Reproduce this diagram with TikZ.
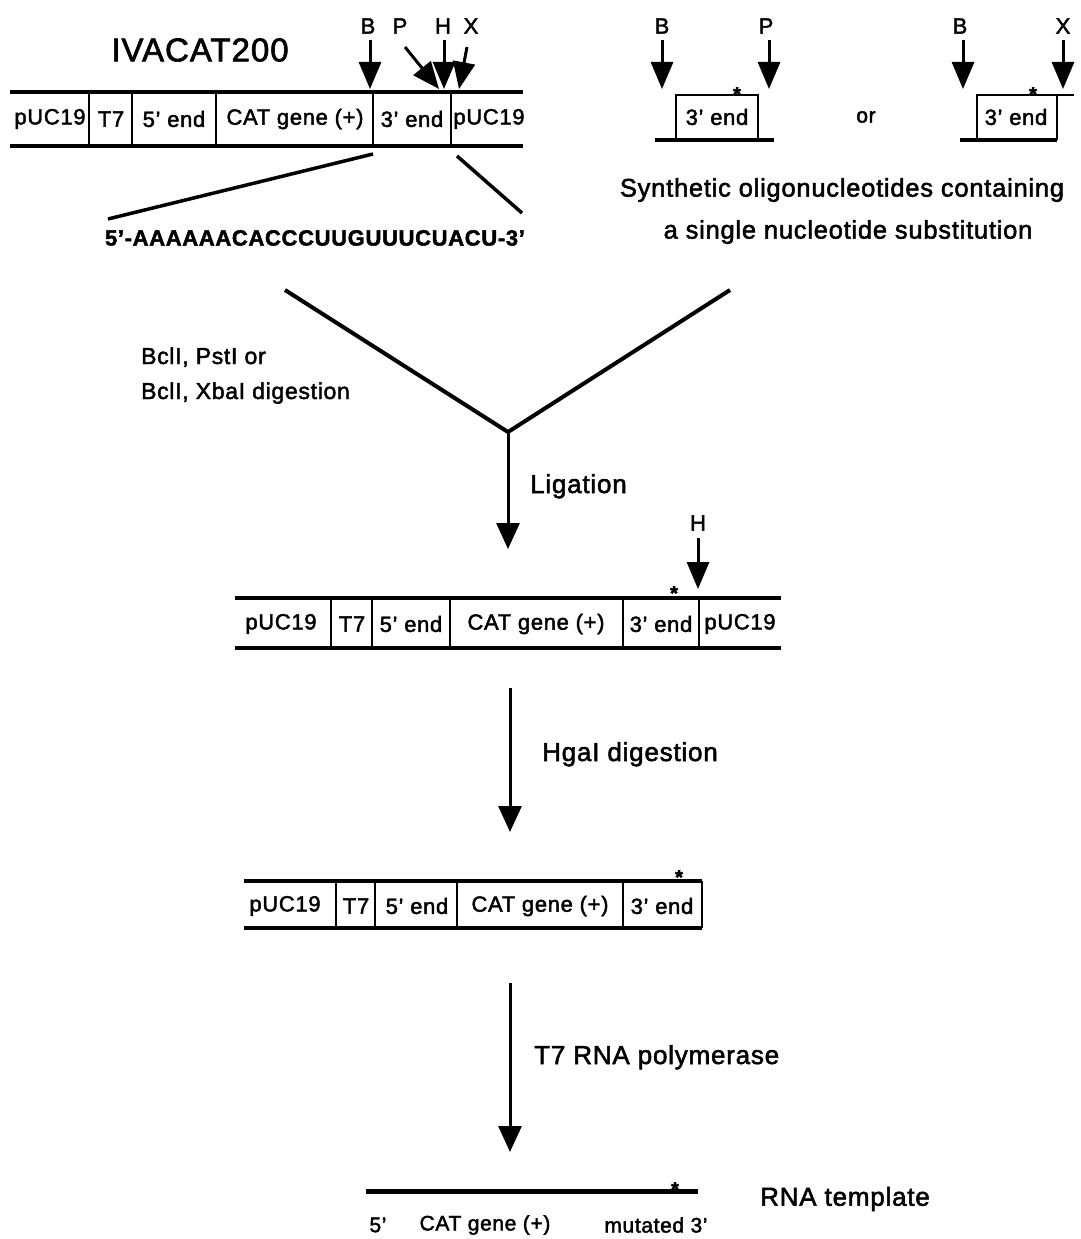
\documentclass[tikz,border=0pt]{standalone}
\usepackage{fontspec}
\setmainfont{Liberation Sans}[LetterSpace=3,FakeBold=2]
\usetikzlibrary{arrows.meta}
\begin{document}
\begin{tikzpicture}[x=1pt,y=-1pt,
  seg/.style={font=\fontsize{22}{26}\selectfont, inner sep=0pt},
  dna/.style={line width=3.2pt},
  dv/.style={line width=2.8pt},
  lbl/.style={font=\fontsize{22}{26}\selectfont, inner sep=0pt},
  cutarrow/.style={line width=3pt, -{Triangle[length=27pt,width=22pt]}},
  flow/.style={line width=3pt, -{Triangle[length=26pt,width=23pt]}},
  txt/.style={font=\fontsize{26}{30}\selectfont, inner sep=0pt},
  startxt/.style={font=\fontsize{20}{20}\selectfont\bfseries, inner sep=0pt, anchor=base},
]
\useasboundingbox[fill=white] (0,0) rectangle (1081,1239);

% ---------- top construct IVACAT200 ----------
\node[font=\fontsize{33}{38}\selectfont, inner sep=0pt] (title) at (200,50) {IVACAT200};
\draw[dna] (10,92) -- (523,92);
\draw[dna] (10,146) -- (523,146);
\foreach \x in {89,132,216,373,451} \draw[dv] (\x,92) -- (\x,146);
\node[seg] (a1) at (50,119) {pUC19};
\node[seg] (a2) at (111,119) {T7};
\node[seg] (a3) at (174,119) {5' end};
\node[seg] (a4) at (295,119) {CAT gene (+)};
\node[seg] (a5) at (412,119) {3' end};
\node[seg] (a6) at (489,119) {pUC19};
\node[lbl] (lB) at (368,26) {B};
\node[lbl] (lP) at (400,26) {P};
\node[lbl] (lH) at (443,26) {H};
\node[lbl] (lX) at (471,26) {X};
\coordinate (tB) at (370,89);
\coordinate (tP) at (439,89);
\coordinate (tH) at (444,89);
\coordinate (tX) at (459,89);
\draw[cutarrow] (370,40) -- (tB);
\draw[cutarrow] (405,47) -- (tP);
\draw[cutarrow] (444,40) -- (tH);
\draw[cutarrow] (467,47) -- (tX);

% expansion lines and sequence
\node[font=\fontsize{22}{26}\selectfont\bfseries, inner sep=0pt] (seq) at (315,238) {5'-AAAAAACACCCUUGUUUCUACU-3'};
\coordinate (eL1) at (373,154);
\coordinate (eL2) at (108,219);
\coordinate (eR1) at (457,156);
\coordinate (eR2) at (522,213);
\draw[line width=3.5pt] (eL1) -- (eL2);
\draw[line width=3.5pt] (eR1) -- (eR2);

% ---------- oligonucleotides ----------
\draw[dna] (655,140) -- (774,140);
\draw[dv] (676,140) -- (676,95) -- (758,95) -- (758,140);
\node[seg] (o1) at (717,117) {3' end};
\node[startxt] (s1) at (737,101) {*};
\node[lbl] (o1B) at (662,26) {B};
\node[lbl] (o1P) at (766,26) {P};
\coordinate (o1tB) at (662,89);
\coordinate (o1tP) at (769,89);
\draw[cutarrow] (662,40) -- (o1tB);
\draw[cutarrow] (769,40) -- (o1tP);

\node[font=\fontsize{21}{24}\selectfont, inner sep=0pt] (or) at (866,117) {or};

\draw[dna] (960,140) -- (1057,140);
\draw[dv] (977,140) -- (977,95) -- (1074,95);
\draw[dv] (1057,95) -- (1057,140);
\node[seg] (o2) at (1016,117) {3' end};
\node[startxt] (s2) at (1033,101) {*};
\node[lbl] (o2B) at (960,26) {B};
\node[lbl] (o2X) at (1063,26) {X};
\coordinate (o2tB) at (963,89);
\coordinate (o2tX) at (1063,89);
\draw[cutarrow] (963,40) -- (o2tB);
\draw[cutarrow] (1063,40) -- (o2tX);

\node[font=\fontsize{25.5}{30}\selectfont, inner sep=0pt] (syn1) at (842,190) {Synthetic oligonucleotides containing};
\node[font=\fontsize{25.5}{30}\selectfont, inner sep=0pt] (syn2) at (848,232) {a single nucleotide substitution};

% ---------- merging ----------
\coordinate (vL) at (285,290);
\coordinate (vR) at (730,290);
\coordinate (vJ) at (508,432);
\coordinate (lig) at (508,549);
\draw[line width=4pt, line join=miter] (vL) -- (vJ) -- (vR);
\draw[flow] (vJ) -- (lig);
\node[font=\fontsize{23}{27}\selectfont, inner sep=0pt, anchor=base west] (dig1) at (141,364) {BclI, PstI or};
\node[font=\fontsize{23}{27}\selectfont, inner sep=0pt, anchor=base west] (dig2) at (141,399) {BclI, XbaI digestion};
\node[txt, anchor=base west] (ligtxt) at (530,493) {Ligation};

% ---------- ligated construct ----------
\draw[dna] (235,598) -- (781,598);
\draw[dna] (235,648) -- (781,648);
\foreach \x in {331,372,450,623,699} \draw[dv] (\x,598) -- (\x,648);
\node[seg] (b1) at (281,624) {pUC19};
\node[seg] (b2) at (352,624) {T7};
\node[seg] (b3) at (411,624) {5' end};
\node[seg] (b4) at (536,624) {CAT gene (+)};
\node[seg] (b5) at (661,624) {3' end};
\node[seg] (b6) at (740,624) {pUC19};
\node[startxt] (s3) at (674,600) {*};
\node[lbl] (bH) at (698,523) {H};
\coordinate (btH) at (698,589);
\draw[cutarrow] (698,538) -- (btH);

\coordinate (h1) at (510,688);
\coordinate (h2) at (510,832);
\draw[flow] (h1) -- (h2);
\node[txt, anchor=base west] (hga) at (542,761) {HgaI digestion};

% ---------- digested construct ----------
\draw[dna] (244,881) -- (702,881);
\draw[dna] (244,928) -- (702,928);
\foreach \x in {336,375,457,623,702} \draw[dv] (\x,881) -- (\x,928);
\node[seg] (c1) at (285,906) {pUC19};
\node[seg] (c2) at (356,906) {T7};
\node[seg] (c3) at (417,906) {5' end};
\node[seg] (c4) at (540,906) {CAT gene (+)};
\node[seg] (c5) at (662,906) {3' end};
\node[startxt] (s4) at (679,884) {*};

\coordinate (t1) at (510,983);
\coordinate (t2) at (510,1152);
\draw[flow] (t1) -- (t2);
\node[txt, anchor=base west] (pol) at (534,1064) {T7 RNA polymerase};

% ---------- RNA ----------
\coordinate (r1) at (366,1191);
\coordinate (r2) at (698,1191);
\draw[line width=5pt] (r1) -- (r2);
\node[startxt] (s5) at (675,1196) {*};
\node[txt] (rna) at (845,1199) {RNA template};
\node[font=\fontsize{21}{24}\selectfont, inner sep=0pt] (r5) at (378,1225) {5'};
\node[font=\fontsize{21}{24}\selectfont, inner sep=0pt] (rcat) at (485,1225) {CAT gene (+)};
\node[font=\fontsize{21}{24}\selectfont, inner sep=0pt] (rmut) at (656,1225) {mutated 3'};
\end{tikzpicture}
\end{document}
